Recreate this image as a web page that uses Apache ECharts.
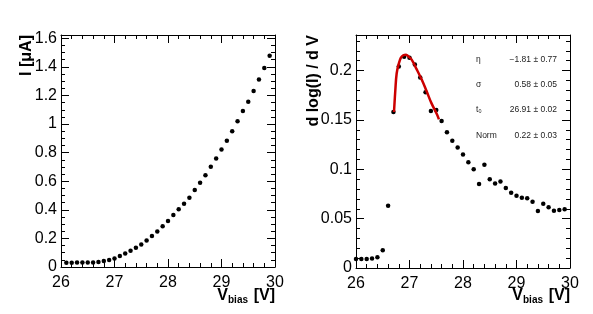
<!DOCTYPE html>
<html>
<head>
<meta charset="utf-8">
<script src="https://cdn.jsdelivr.net/npm/echarts@6/dist/echarts.min.js"></script>
<style>
html,body{margin:0;padding:0;background:#fff;}
#chart{width:593px;height:314px;}
</style>
</head>
<body>
<div id="chart"></div>
<script>
// ---------- data ----------
const voltsI = [26.1,26.2,26.3,26.4,26.5,26.6,26.7,26.8,26.9,27.0,27.1,27.2,27.3,27.4,27.5,27.6,27.7,27.8,27.9,28.0,28.1,28.2,28.3,28.4,28.5,28.6,28.7,28.8,28.9,29.0,29.1,29.2,29.3,29.4,29.5,29.6,29.7,29.8,29.9];
const current = [0.030,0.030,0.031,0.031,0.032,0.032,0.035,0.042,0.049,0.060,0.077,0.095,0.114,0.134,0.157,0.185,0.216,0.248,0.285,0.322,0.363,0.404,0.443,0.485,0.538,0.589,0.641,0.701,0.759,0.822,0.884,0.949,1.019,1.091,1.156,1.232,1.311,1.393,1.478];

const voltsD = [26.0,26.1,26.2,26.3,26.4,26.5,26.6,26.7,26.8,26.9,27.0,27.1,27.2,27.3,27.4,27.5,27.6,27.7,27.8,27.9,28.0,28.1,28.2,28.3,28.4,28.5,28.6,28.7,28.8,28.9,29.0,29.1,29.2,29.3,29.4,29.5,29.6,29.7,29.8,29.9];
const deriv = [0.009,0.009,0.009,0.0095,0.011,0.018,0.063,0.158,0.204,0.214,0.213,0.206,0.193,0.178,0.159,0.160,0.149,0.1375,0.129,0.122,0.115,0.107,0.100,0.085,0.1045,0.090,0.0857,0.0877,0.081,0.0763,0.0733,0.0712,0.0706,0.0672,0.0578,0.0652,0.0615,0.0581,0.0588,0.0595];

const fitX = [26.71,26.735,26.76,26.80,26.84,26.885,26.935,26.985,27.04,27.13,27.23,27.32,27.41,27.51,27.55];
const fitY = [0.158,0.180,0.197,0.207,0.213,0.2155,0.216,0.214,0.211,0.2017,0.1906,0.179,0.167,0.156,0.1506];

const xTicks = [26,27,28,29,30];
const leftYTicks = [0,0.2,0.4,0.6,0.8,1.0,1.2,1.4,1.6];
const rightYTicks = [0,0.05,0.1,0.15,0.2];
const leftYMax = 1.623;
const rightYMax = 0.236;

const statNames = ['η','σ','t₀','Norm'];
const statValues = ['−1.81 ± 0.77','0.58 ± 0.05','26.91 ± 0.02','0.22 ± 0.03'];

// ---------- chart ----------
const FONT = "'Liberation Sans', Arial, Helvetica, sans-serif";
const chart = echarts.init(document.getElementById('chart'), null, {renderer:'canvas'});

function xAx(grid, pos, ticks, showLabel){
  return {
    type:'value', gridIndex:grid, position:pos,
    min:ticks[0], max:ticks[ticks.length-1], interval:ticks[1]-ticks[0],
    axisLine:{show:true, onZero:false, lineStyle:{color:'#000', width:1}},
    axisTick:{show:true, inside:true, length:8, lineStyle:{color:'#000', width:1}},
    minorTick:{show:true, splitNumber:5, length:4, lineStyle:{color:'#000', width:1}},
    axisLabel:{show:showLabel, color:'#000', fontSize:16, fontFamily:FONT, margin:8},
    splitLine:{show:false}, minorSplitLine:{show:false}
  };
}
function yAx(grid, pos, ticks, max, minorSplit, showLabel){
  return {
    type:'value', gridIndex:grid, position:pos,
    min:ticks[0], max:max, interval:ticks[1]-ticks[0],
    axisLine:{show:true, onZero:false, lineStyle:{color:'#000', width:1}},
    axisTick:{show:true, inside:true, length:8, lineStyle:{color:'#000', width:1}},
    minorTick:{show:true, splitNumber:minorSplit, length:4, lineStyle:{color:'#000', width:1}},
    axisLabel:{show:showLabel, color:'#000', fontSize:16, fontFamily:FONT, margin:4, showMaxLabel:false},
    splitLine:{show:false}, minorSplitLine:{show:false}
  };
}

const graphics = [
  {type:'text', x:27, y:35, rotation:Math.PI/2,
   style:{text:'I [μA]', x:0, y:0, font:"bold 16px "+FONT, fill:'#000', textAlign:'right', textVerticalAlign:'middle'}},
  {type:'text', x:314, y:35, rotation:Math.PI/2,
   style:{text:'d log(I) / d V', x:0, y:0, font:"bold 16px "+FONT, fill:'#000', textAlign:'right', textVerticalAlign:'middle'}}
];
[[275],[570]].forEach(function(a){
  const r = a[0];
  graphics.push({type:'text', x:r, y:296, style:{text:'[V]', font:"bold 16px "+FONT, fill:'#000', textAlign:'right', textVerticalAlign:'middle'}});
  graphics.push({type:'text', x:r-27, y:300, style:{text:'bias', font:"bold 10px "+FONT, fill:'#000', textAlign:'right', textVerticalAlign:'middle'}});
  graphics.push({type:'text', x:r-47, y:296, style:{text:'V', font:"bold 16px "+FONT, fill:'#000', textAlign:'right', textVerticalAlign:'middle'}});
});
const statRows = [60,85,110,136];
statNames.forEach(function(n,i){
  graphics.push({type:'text', x:476, y:statRows[i], style:{text:n, font:"8.5px "+FONT, fill:'#222', textAlign:'left', textVerticalAlign:'middle'}});
  graphics.push({type:'text', x:557, y:statRows[i], style:{text:statValues[i], font:"8.5px "+FONT, fill:'#222', textAlign:'right', textVerticalAlign:'middle'}});
});

const option = {
  animation:false,
  backgroundColor:'#fff',
  grid:[
    {left:61, top:35, width:214, bottom:47},
    {left:356, top:35, width:214, bottom:46}
  ],
  xAxis:[
    xAx(0,'bottom',xTicks,true),
    xAx(0,'top',xTicks,false),
    xAx(1,'bottom',xTicks,true),
    xAx(1,'top',xTicks,false)
  ],
  yAxis:[
    yAx(0,'left',leftYTicks,leftYMax,4,true),
    yAx(0,'right',leftYTicks,leftYMax,4,false),
    yAx(1,'left',rightYTicks,rightYMax,5,true),
    yAx(1,'right',rightYTicks,rightYMax,5,false)
  ],
  series:[
    {type:'scatter', xAxisIndex:0, yAxisIndex:0, symbol:'circle', symbolSize:4.5,
     itemStyle:{color:'#000', opacity:1}, data:voltsI.map(function(v,i){return [v,current[i]];})},
    {type:'scatter', xAxisIndex:2, yAxisIndex:2, symbol:'circle', symbolSize:4.5,
     itemStyle:{color:'#000', opacity:1}, data:voltsD.map(function(v,i){return [v,deriv[i]];})},
    {type:'line', xAxisIndex:2, yAxisIndex:2, smooth:0.4, showSymbol:false, z:5,
     lineStyle:{color:'#cc0000', width:2.5}, data:fitX.map(function(v,i){return [v,fitY[i]];})}
  ],
  graphic:graphics
};
chart.setOption(option);
</script>
</body>
</html>
